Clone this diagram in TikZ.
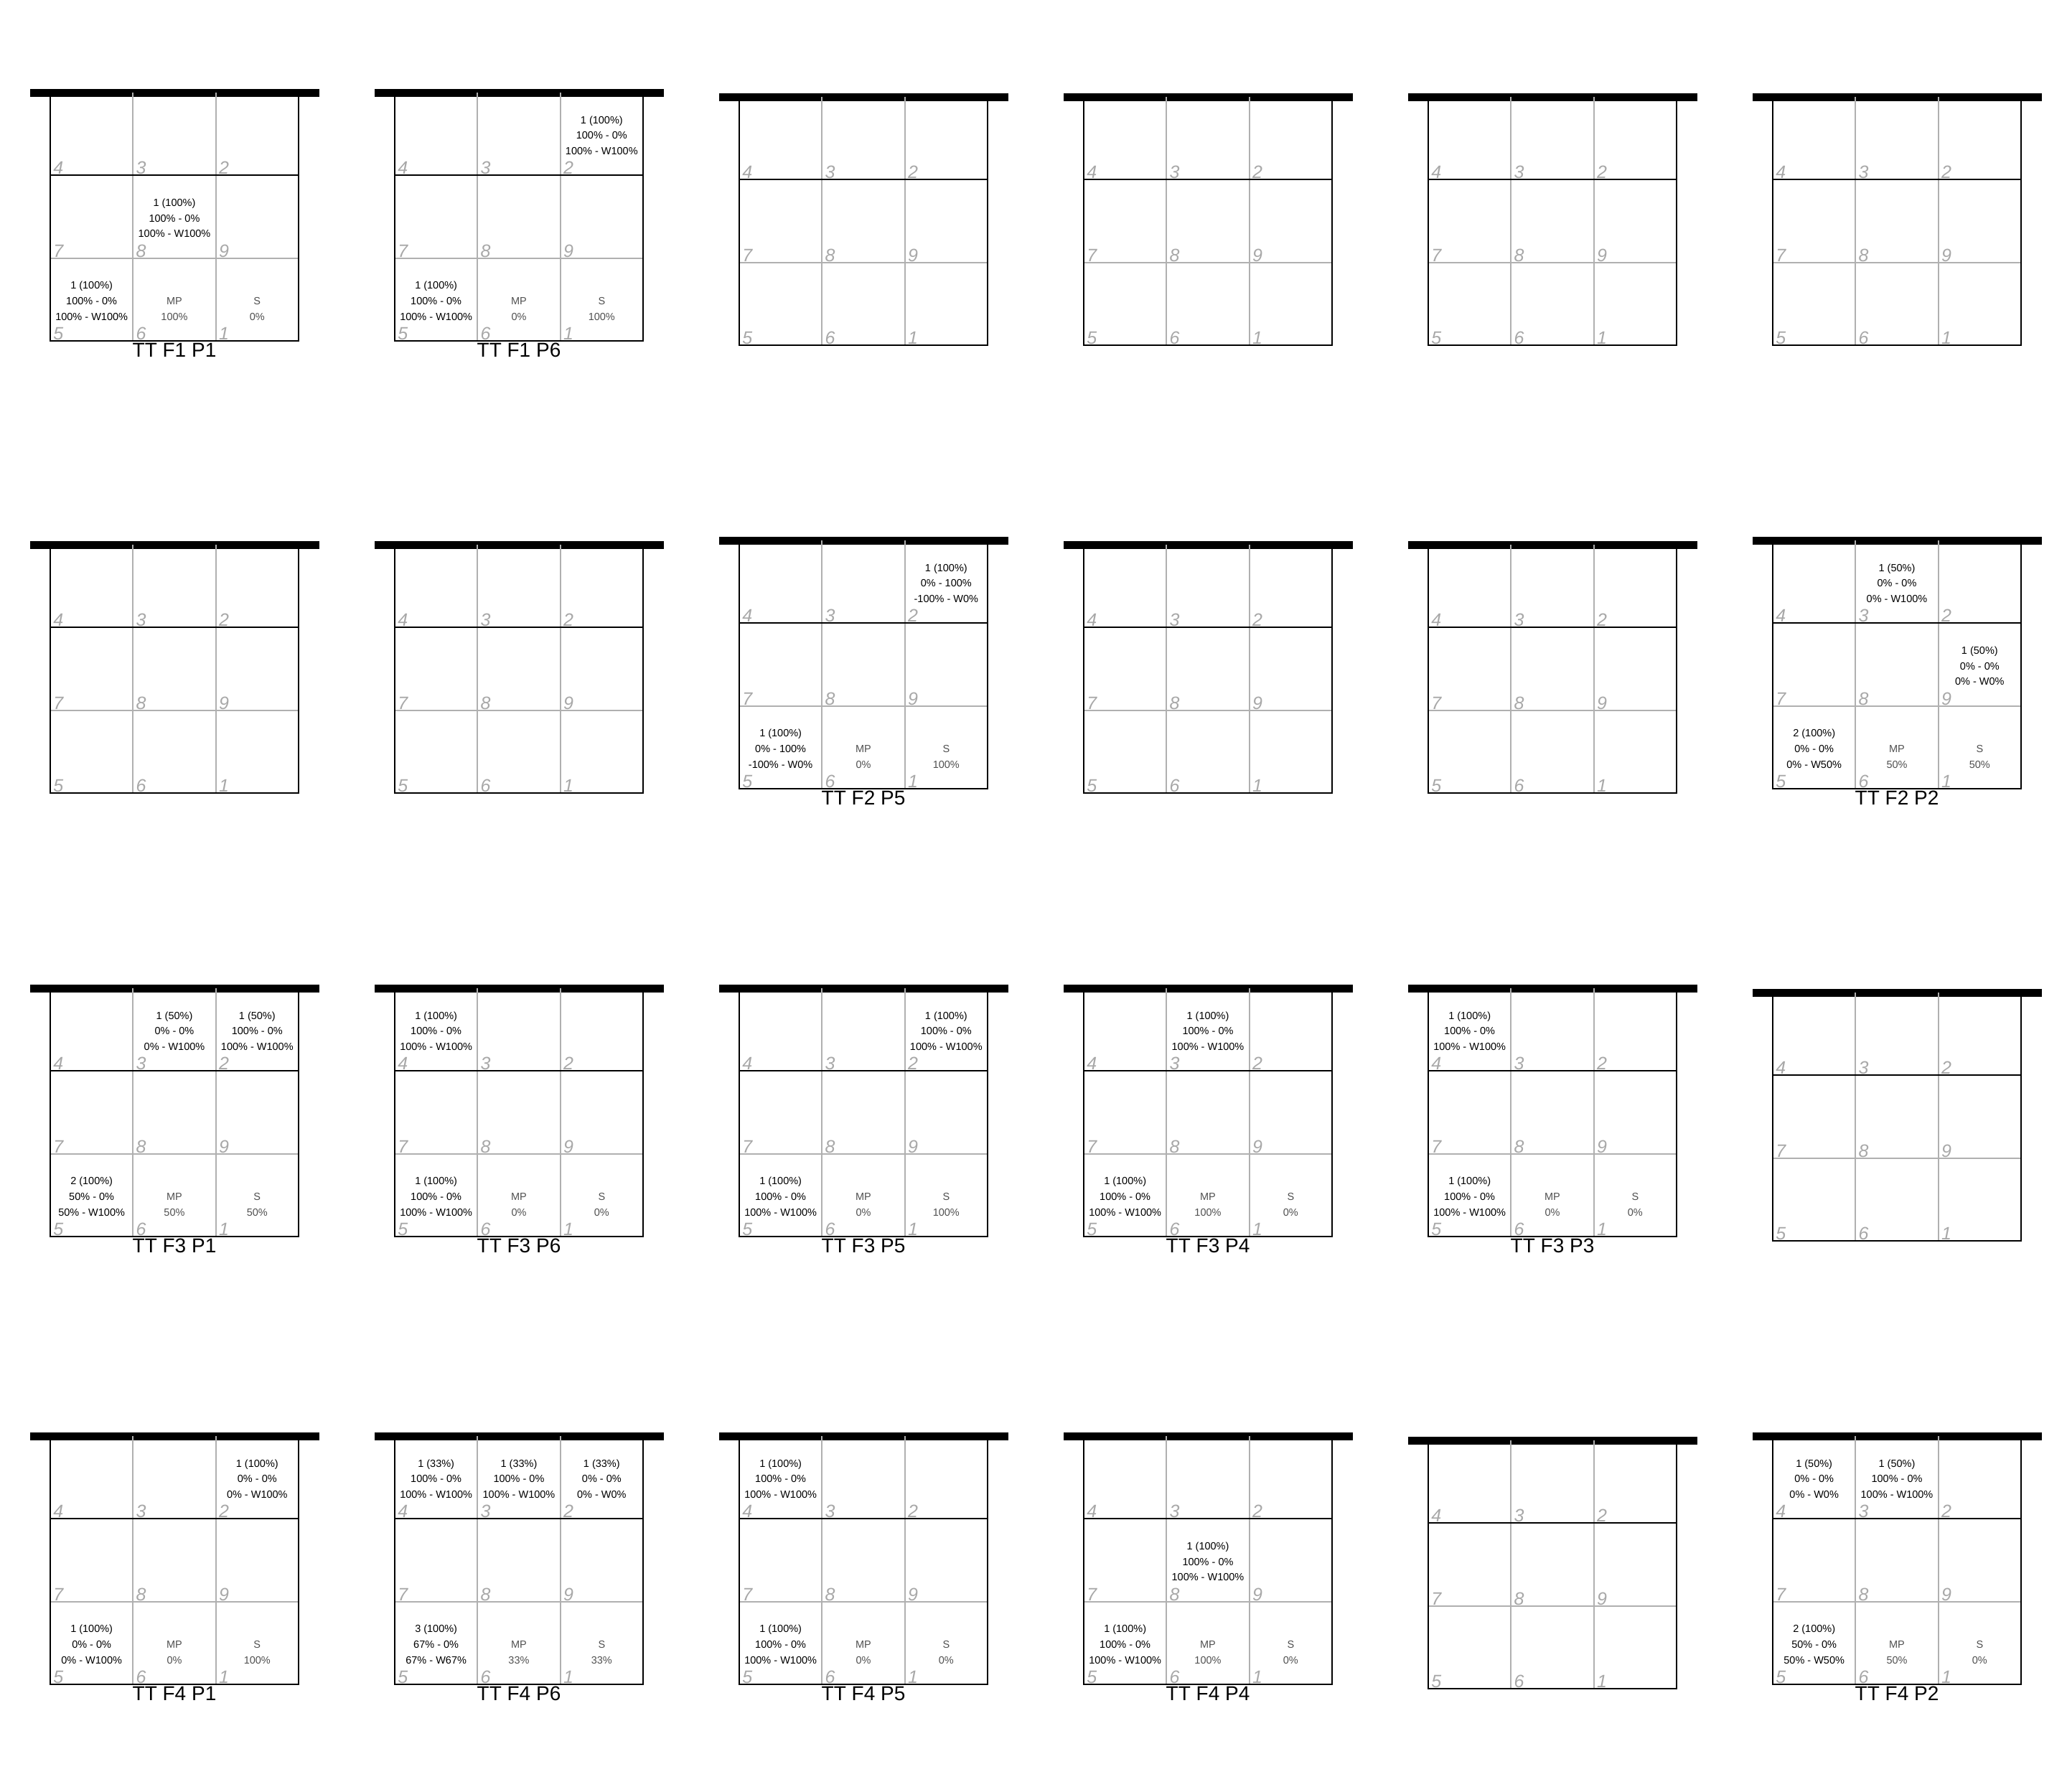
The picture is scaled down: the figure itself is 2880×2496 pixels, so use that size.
\documentclass[tikz,border=0pt]{standalone}
\usepackage{fontspec}
\setmainfont{Liberation Sans}
\definecolor{gridgray}{RGB}{176,176,176}
\definecolor{numgray}{RGB}{168,168,168}
\definecolor{mpgray}{RGB}{80,80,80}
\tikzset{
  infotext/.style={anchor=base, inner sep=0pt, font=\fontsize{7.25pt}{8pt}\selectfont, text=black},
  mptext/.style={infotext, text=mpgray},
  cellnum/.style={anchor=base west, inner sep=0pt, font=\fontsize{12.5pt}{12.5pt}\selectfont\itshape, text=numgray},
  paneltitle/.style={anchor=base, inner sep=0pt, font=\fontsize{14pt}{14pt}\selectfont, text=black},
  topbar/.style={fill=black},
  thickline/.style={draw=black, line width=1pt},
  thinline/.style={draw=gridgray, line width=1pt},
}
% one empty 3x3 grid with its cell numbers; #1 = name prefix
\newcommand\gridpanel[1]{%
  \fill[topbar] (42,124) rectangle (445,135);
  \draw[thinline] (185.33,129) -- (185.33,475) (300.67,129) -- (300.67,475) (70,359.67) -- (416,359.67);
  \draw[thickline] (70,129) -- (70,475) -- (416,475) -- (416,129) (70,244.33) -- (416,244.33);
  \node[cellnum] (#1-n4) at (74,242.8) {4};
  \node[cellnum] (#1-n3) at (189.3,242.8) {3};
  \node[cellnum] (#1-n2) at (304.7,242.8) {2};
  \node[cellnum] (#1-n7) at (74,358.2) {7};
  \node[cellnum] (#1-n8) at (189.3,358.2) {8};
  \node[cellnum] (#1-n9) at (304.7,358.2) {9};
  \node[cellnum] (#1-n5) at (74,473.5) {5};
  \node[cellnum] (#1-n6) at (189.3,473.5) {6};
  \node[cellnum] (#1-n1) at (304.7,473.5) {1};
}
% three-line text in a cell: #1 name, #2 column index, #3 row index, #4-#6 lines
\newcommand\cellinfo[6]{%
  \node[infotext] (#1a) at ({127.67+115.33*#2},{172+115.33*#3}) {#4};
  \node[infotext] (#1b) at ({127.67+115.33*#2},{193.67+115.33*#3}) {#5};
  \node[infotext] (#1c) at ({127.67+115.33*#2},{215.37+115.33*#3}) {#6};
}
% MP and S values: #1 name, #2 MP value, #3 S value
\newcommand\mpsinfo[3]{%
  \node[mptext] (#1-mp) at (243,424.33) {MP};
  \node[mptext] (#1-mpv) at (243,446) {#2};
  \node[mptext] (#1-s) at (358.33,424.33) {S};
  \node[mptext] (#1-sv) at (358.33,446) {#3};
}
\newcommand\ptitle[2]{\node[paneltitle] (#1-t) at (243,497) {#2};}
\begin{document}
\begin{tikzpicture}[x=0.5pt,y=-0.5pt]
\fill[white] (0,0) rectangle (2880,2496);
\useasboundingbox (0,0) rectangle (2880,2496);
% ---------- Row 1 (F1) ----------
\begin{scope}[shift={(0,0)}]
  \gridpanel{a1}\ptitle{a1}{TT F1 P1}
  \cellinfo{a1-c8}{1}{1}{1 (100\%)}{100\% - 0\%}{100\% - W100\%}
  \cellinfo{a1-c5}{0}{2}{1 (100\%)}{100\% - 0\%}{100\% - W100\%}
  \mpsinfo{a1}{100\%}{0\%}
\end{scope}
\begin{scope}[shift={(480,0)}]
  \gridpanel{a2}\ptitle{a2}{TT F1 P6}
  \cellinfo{a2-c2}{2}{0}{1 (100\%)}{100\% - 0\%}{100\% - W100\%}
  \cellinfo{a2-c5}{0}{2}{1 (100\%)}{100\% - 0\%}{100\% - W100\%}
  \mpsinfo{a2}{0\%}{100\%}
\end{scope}
\begin{scope}[shift={(960,6)}]\gridpanel{a3}\end{scope}
\begin{scope}[shift={(1440,6)}]\gridpanel{a4}\end{scope}
\begin{scope}[shift={(1920,6)}]\gridpanel{a5}\end{scope}
\begin{scope}[shift={(2400,6)}]\gridpanel{a6}\end{scope}
% ---------- Row 2 (F2) ----------
\begin{scope}[shift={(0,630)}]\gridpanel{b1}\end{scope}
\begin{scope}[shift={(480,630)}]\gridpanel{b2}\end{scope}
\begin{scope}[shift={(960,624)}]
  \gridpanel{b3}\ptitle{b3}{TT F2 P5}
  \cellinfo{b3-c2}{2}{0}{1 (100\%)}{0\% - 100\%}{-100\% - W0\%}
  \cellinfo{b3-c5}{0}{2}{1 (100\%)}{0\% - 100\%}{-100\% - W0\%}
  \mpsinfo{b3}{0\%}{100\%}
\end{scope}
\begin{scope}[shift={(1440,630)}]\gridpanel{b4}\end{scope}
\begin{scope}[shift={(1920,630)}]\gridpanel{b5}\end{scope}
\begin{scope}[shift={(2400,624)}]
  \gridpanel{b6}\ptitle{b6}{TT F2 P2}
  \cellinfo{b6-c3}{1}{0}{1 (50\%)}{0\% - 0\%}{0\% - W100\%}
  \cellinfo{b6-c9}{2}{1}{1 (50\%)}{0\% - 0\%}{0\% - W0\%}
  \cellinfo{b6-c5}{0}{2}{2 (100\%)}{0\% - 0\%}{0\% - W50\%}
  \mpsinfo{b6}{50\%}{50\%}
\end{scope}
% ---------- Row 3 (F3) ----------
\begin{scope}[shift={(0,1248)}]
  \gridpanel{c1}\ptitle{c1}{TT F3 P1}
  \cellinfo{c1-c3}{1}{0}{1 (50\%)}{0\% - 0\%}{0\% - W100\%}
  \cellinfo{c1-c2}{2}{0}{1 (50\%)}{100\% - 0\%}{100\% - W100\%}
  \cellinfo{c1-c5}{0}{2}{2 (100\%)}{50\% - 0\%}{50\% - W100\%}
  \mpsinfo{c1}{50\%}{50\%}
\end{scope}
\begin{scope}[shift={(480,1248)}]
  \gridpanel{c2}\ptitle{c2}{TT F3 P6}
  \cellinfo{c2-c4}{0}{0}{1 (100\%)}{100\% - 0\%}{100\% - W100\%}
  \cellinfo{c2-c5}{0}{2}{1 (100\%)}{100\% - 0\%}{100\% - W100\%}
  \mpsinfo{c2}{0\%}{0\%}
\end{scope}
\begin{scope}[shift={(960,1248)}]
  \gridpanel{c3}\ptitle{c3}{TT F3 P5}
  \cellinfo{c3-c2}{2}{0}{1 (100\%)}{100\% - 0\%}{100\% - W100\%}
  \cellinfo{c3-c5}{0}{2}{1 (100\%)}{100\% - 0\%}{100\% - W100\%}
  \mpsinfo{c3}{0\%}{100\%}
\end{scope}
\begin{scope}[shift={(1440,1248)}]
  \gridpanel{c4}\ptitle{c4}{TT F3 P4}
  \cellinfo{c4-c3}{1}{0}{1 (100\%)}{100\% - 0\%}{100\% - W100\%}
  \cellinfo{c4-c5}{0}{2}{1 (100\%)}{100\% - 0\%}{100\% - W100\%}
  \mpsinfo{c4}{100\%}{0\%}
\end{scope}
\begin{scope}[shift={(1920,1248)}]
  \gridpanel{c5}\ptitle{c5}{TT F3 P3}
  \cellinfo{c5-c4}{0}{0}{1 (100\%)}{100\% - 0\%}{100\% - W100\%}
  \cellinfo{c5-c5}{0}{2}{1 (100\%)}{100\% - 0\%}{100\% - W100\%}
  \mpsinfo{c5}{0\%}{0\%}
\end{scope}
\begin{scope}[shift={(2400,1254)}]\gridpanel{c6}\end{scope}
% ---------- Row 4 (F4) ----------
\begin{scope}[shift={(0,1872)}]
  \gridpanel{d1}\ptitle{d1}{TT F4 P1}
  \cellinfo{d1-c2}{2}{0}{1 (100\%)}{0\% - 0\%}{0\% - W100\%}
  \cellinfo{d1-c5}{0}{2}{1 (100\%)}{0\% - 0\%}{0\% - W100\%}
  \mpsinfo{d1}{0\%}{100\%}
\end{scope}
\begin{scope}[shift={(480,1872)}]
  \gridpanel{d2}\ptitle{d2}{TT F4 P6}
  \cellinfo{d2-c4}{0}{0}{1 (33\%)}{100\% - 0\%}{100\% - W100\%}
  \cellinfo{d2-c3}{1}{0}{1 (33\%)}{100\% - 0\%}{100\% - W100\%}
  \cellinfo{d2-c2}{2}{0}{1 (33\%)}{0\% - 0\%}{0\% - W0\%}
  \cellinfo{d2-c5}{0}{2}{3 (100\%)}{67\% - 0\%}{67\% - W67\%}
  \mpsinfo{d2}{33\%}{33\%}
\end{scope}
\begin{scope}[shift={(960,1872)}]
  \gridpanel{d3}\ptitle{d3}{TT F4 P5}
  \cellinfo{d3-c4}{0}{0}{1 (100\%)}{100\% - 0\%}{100\% - W100\%}
  \cellinfo{d3-c5}{0}{2}{1 (100\%)}{100\% - 0\%}{100\% - W100\%}
  \mpsinfo{d3}{0\%}{0\%}
\end{scope}
\begin{scope}[shift={(1440,1872)}]
  \gridpanel{d4}\ptitle{d4}{TT F4 P4}
  \cellinfo{d4-c8}{1}{1}{1 (100\%)}{100\% - 0\%}{100\% - W100\%}
  \cellinfo{d4-c5}{0}{2}{1 (100\%)}{100\% - 0\%}{100\% - W100\%}
  \mpsinfo{d4}{100\%}{0\%}
\end{scope}
\begin{scope}[shift={(1920,1878)}]\gridpanel{d5}\end{scope}
\begin{scope}[shift={(2400,1872)}]
  \gridpanel{d6}\ptitle{d6}{TT F4 P2}
  \cellinfo{d6-c4}{0}{0}{1 (50\%)}{0\% - 0\%}{0\% - W0\%}
  \cellinfo{d6-c3}{1}{0}{1 (50\%)}{100\% - 0\%}{100\% - W100\%}
  \cellinfo{d6-c5}{0}{2}{2 (100\%)}{50\% - 0\%}{50\% - W50\%}
  \mpsinfo{d6}{50\%}{0\%}
\end{scope}
\end{tikzpicture}
\end{document}
